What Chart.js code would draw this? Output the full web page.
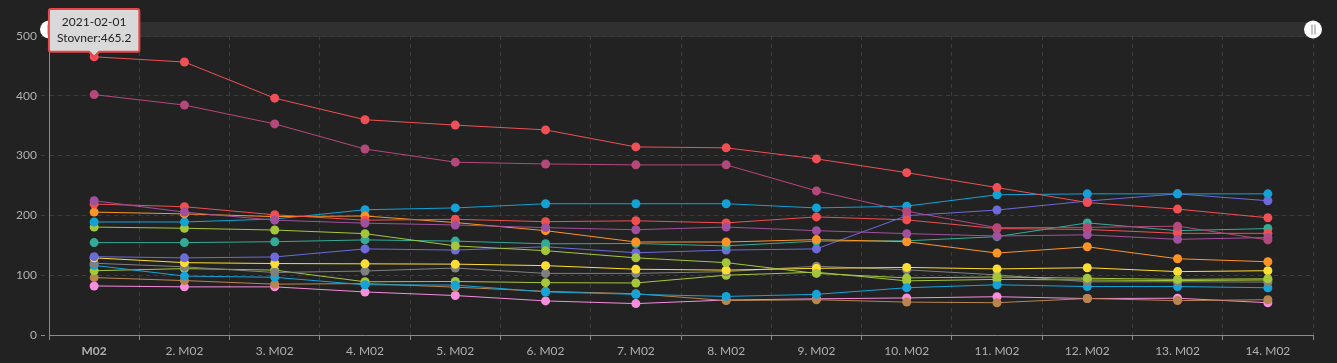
<!DOCTYPE html>
<html>
<head>
<meta charset="utf-8">
<script src="https://cdn.jsdelivr.net/npm/chart.js@4/dist/chart.umd.min.js"></script>
<style>
  html, body { margin: 0; padding: 0; background: #222222; }
  #wrap { width: 1337px; height: 363px; }
</style>
</head>
<body>
<div id="wrap"><canvas id="c" width="1337" height="363"></canvas></div>
<script>
const dates = ['2021-02-01','2021-02-02','2021-02-03','2021-02-04','2021-02-05','2021-02-06','2021-02-07','2021-02-08','2021-02-09','2021-02-10','2021-02-11','2021-02-12','2021-02-13','2021-02-14'];
const tickLabels = ['M02','2. M02','3. M02','4. M02','5. M02','6. M02','7. M02','8. M02','9. M02','10. M02','11. M02','12. M02','13. M02','14. M02'];
const yTicks = [0, 100, 200, 300, 400, 500];

const seriesNames = ['Stovner','Alna','Grorud','Søndre Nordstrand','Bjerke','Gamle Oslo','Grünerløkka','Østensjø','Sagene','Nordstrand','Ullern','St. Hanshaugen','Nordre Aker','Frogner','Vestre Aker'];
const seriesColors = ['#ef5055','#b5487b','#a0509c','#ef4f51','#ff9324','#13a1d6','#a4c63a','#34ab97','#6c6bd8','#ffde33','#808080','#14a4d8','#a5c73a','#b9854f','#f68ddd'];

const stovner          = [465.2,456.5,396,360,351,343,314.5,313,294.5,271.5,246.5,221.5,210.5,196];
const alna             = [402,384.5,353,311,289,286,284.5,284.5,241,207,179.5,180,182,159];
const grorud           = [224.5,205.5,192,187,184,179.5,176,180.5,174.5,169.5,165.5,167.5,160,163];
const sondreNordstrand = [219,214.5,201,192,193.5,189.5,191,187.5,197.5,192.5,178,176.5,170,170];
const bjerke           = [205.5,202.5,198,199,188,174.5,155.5,155.5,159.5,156,137,147.5,127.5,122.5];
const gamleOslo        = [189,189,194,209.5,212.5,219.5,219.5,219.5,212.5,215.5,234.5,236,236,236];
const grunerlokka      = [180.5,178.5,175.5,169.5,149,141,129,121,103,95.5,97,95,93,94];
const ostensjo         = [154.5,154.5,156,159,157,152.5,153,149,157,157.5,164.5,187.5,174.5,178];
const sagene           = [131,129,130.5,144,142,147.5,137.5,142,144,199.5,209,224,236,224.5];
const nordstrand       = [129,121,119.5,119,118.5,116,110,108.5,111.5,113,110.5,112.5,106,107.5];
const ullern           = [120,114,104.5,107,112,103,103,106,115,109,100.5,89,89,88.5];
const stHanshaugen     = [116.5,98.5,96.5,84,83.5,72,68,64.5,68,79,84,81,81,79];
const nordreAker       = [107.5,111,108.5,89,89.5,87.5,87,100,105,90.5,93,92,91,92];
const frogner          = [96,91,85,86,80,73,69,57.5,59,55,54,61,57.5,59];
const vestreAker       = [82,80.5,80.5,72,66,57,52.5,58.5,60.5,62,64,61,61.5,54];

const seriesValues = [stovner, alna, grorud, sondreNordstrand, bjerke, gamleOslo, grunerlokka, ostensjo, sagene, nordstrand, ullern, stHanshaugen, nordreAker, frogner, vestreAker];

const FONT = 'Lato, "Noto Sans", sans-serif';

const datasets = seriesNames.map((name, i) => ({
  label: name,
  data: seriesValues[i],
  borderColor: seriesColors[i],
  backgroundColor: seriesColors[i],
  pointBackgroundColor: seriesColors[i],
  pointBorderWidth: 0,
  pointRadius: 4.5,
  pointHoverRadius: 4.5,
  pointHoverBorderWidth: 0,
  borderWidth: 1,
  tension: 0
}));

const decor = {
  id: 'decor',
  beforeDraw(chart) {
    const ctx = chart.ctx, a = chart.chartArea;
    ctx.save();
    ctx.fillStyle = '#222222';
    ctx.fillRect(0, 0, chart.width, chart.height);
    ctx.fillStyle = '#303030';
    ctx.fillRect(a.left, 22, a.right - a.left, 15);
    ctx.restore();
  },
  afterDatasetsDraw(chart) {
    const ctx = chart.ctx, a = chart.chartArea;
    ctx.save();
    const handles = [[a.left, 1], [a.right, 2]];
    handles.forEach(([x, n]) => {
      ctx.beginPath();
      ctx.arc(x, 29.5, 9, 0, Math.PI * 2);
      ctx.fillStyle = '#ffffff';
      ctx.fill();
      ctx.strokeStyle = '#8a8a8a';
      ctx.lineWidth = 1;
      for (let k = 0; k < n; k++) {
        const lx = x + (n === 1 ? -1.5 : (k === 0 ? -1.5 : 1.5)) + 0.5;
        ctx.beginPath();
        ctx.moveTo(lx, 24.5);
        ctx.lineTo(lx, 34.5);
        ctx.stroke();
      }
    });
    ctx.restore();
  }
};

const chart = new Chart(document.getElementById('c'), {
  type: 'line',
  data: { labels: tickLabels, datasets },
  plugins: [decor],
  options: {
    responsive: false,
    animation: false,
    layout: { padding: { top: 36, right: 24, bottom: 0, left: 0 } },
    plugins: {
      legend: { display: false },
      tooltip: {
        enabled: true,
        animation: false,
        backgroundColor: '#d9d9d9',
        borderColor: '#e8474b',
        borderWidth: 2,
        cornerRadius: 2,
        padding: { top: 6, bottom: 6, left: 8, right: 8 },
        caretSize: 5,
        caretPadding: 0,
        displayColors: false,
        titleColor: '#222222',
        bodyColor: '#222222',
        titleFont: { family: FONT, size: 12, weight: 'normal' },
        bodyFont: { family: FONT, size: 12, weight: 'normal' },
        titleMarginBottom: 2,
        titleAlign: 'center',
        bodyAlign: 'center',
        xAlign: 'center',
        yAlign: 'bottom',
        callbacks: {
          title: (items) => dates[items[0].dataIndex],
          label: (item) => item.dataset.label + ':' + item.parsed.y
        }
      }
    },
    scales: {
      x: {
        offset: true,
        afterFit: (s) => { s.height = 28; },
        border: { display: true, color: '#8a8a8a', width: 1, dash: [4, 4] },
        grid: {
          offset: true,
          color: '#3c3c3c',
          drawTicks: true,
          tickLength: 5,
          tickColor: '#8a8a8a',
          tickBorderDash: [],
          lineWidth: 1
        },
        ticks: {
          color: '#b0b0b0',
          padding: 4,
          maxRotation: 0,
          autoSkip: false,
          font: (c) => ({ family: FONT, size: 12, weight: c.index === 0 ? 'bold' : 'normal' })
        }
      },
      y: {
        min: 0,
        max: 500,
        afterFit: (s) => { s.width = 49; },
        afterBuildTicks: (s) => { s.ticks = yTicks.map(v => ({ value: v })); },
        border: { display: true, color: '#8a8a8a', width: 1, dash: [4, 4] },
        grid: {
          color: (c) => c.index === 0 ? 'rgba(0,0,0,0)' : '#3c3c3c',
          drawTicks: true,
          tickLength: 8,
          tickColor: (c) => c.index === 0 ? '#8a8a8a' : '#3c3c3c',
          tickBorderDash: [4, 4]
        },
        ticks: {
          color: '#b0b0b0',
          padding: 4,
          font: { family: FONT, size: 12 }
        }
      }
    }
  }
});

const meta = chart.getDatasetMeta(0);
const pt = meta.data[0];
chart.tooltip.setActiveElements([{ datasetIndex: 0, index: 0 }], { x: pt.x, y: pt.y });
chart.update();
</script>
</body>
</html>
